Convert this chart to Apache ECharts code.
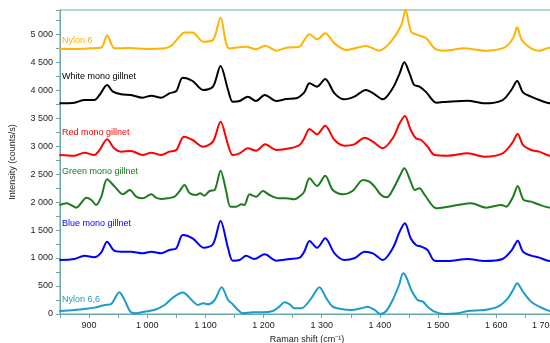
<!DOCTYPE html>
<html>
<head>
<meta charset="utf-8">
<script src="https://cdn.jsdelivr.net/npm/echarts@6/dist/echarts.min.js"></script>
<style>
  html, body { margin: 0; padding: 0; background: #fff; }
  #chart { width: 550px; height: 343px; }
</style>
</head>
<body>
<div id="chart"></div>
<script>
// spectra, [Raman shift, counts/s]
const nylon6 = [
  [849, 4740], [875, 4735], [900, 4745], [921, 4760], [931, 4975], [944, 4745], [970, 4750], [1000, 4735],
  [1030, 4745], [1041, 4790], [1055, 4950], [1064, 5030], [1078, 5030], [1096, 4864], [1113, 4894],
  [1126, 5293], [1141, 4745], [1170, 4775], [1187, 4727], [1203, 4793], [1222, 4703], [1239, 4757],
  [1262, 4775], [1270, 4894], [1279, 4995], [1292, 4906], [1306, 5013], [1322, 4834], [1342, 4715],
  [1376, 4787], [1399, 4703], [1419, 4864], [1437, 5162], [1444, 5430], [1454, 5043], [1468, 4971],
  [1480, 4924], [1494, 4745], [1511, 4703], [1545, 4745], [1580, 4703], [1614, 4757], [1629, 4924],
  [1636, 5120], [1644, 4894], [1660, 4745], [1674, 4703], [1692, 4757], [1720, 4740]
];
const white = [
  [849, 3763], [875, 3775], [892, 3822], [909, 3822], [918, 3912], [931, 4090], [941, 3971], [955, 3924],
  [972, 3912], [992, 3864], [1007, 3900], [1024, 3864], [1038, 3941], [1050, 3983], [1061, 4221],
  [1078, 4162], [1096, 4001], [1113, 4061], [1126, 4430], [1139, 4001], [1147, 3793], [1159, 3805],
  [1173, 3882], [1187, 3805], [1202, 3912], [1222, 3805], [1239, 3840], [1256, 3852], [1270, 3959],
  [1279, 4120], [1292, 4061], [1306, 4197], [1322, 3941], [1339, 3834], [1356, 3882], [1376, 4001],
  [1391, 3924], [1405, 3834], [1422, 4031], [1434, 4299], [1442, 4495], [1451, 4299], [1459, 4090],
  [1468, 4061], [1480, 3959], [1497, 3775], [1517, 3793], [1551, 3811], [1580, 3763], [1611, 3822],
  [1626, 4001], [1636, 4162], [1646, 3959], [1660, 3882], [1674, 3822], [1692, 3763], [1720, 3750]
];
const red = [
  [849, 2840], [875, 2828], [892, 2882], [909, 2840], [918, 2929], [931, 3120], [943, 2959], [955, 2900],
  [972, 2912], [992, 2840], [1007, 2882], [1024, 2840], [1038, 2900], [1050, 2929], [1063, 3168],
  [1078, 3108], [1096, 2989], [1113, 3078], [1126, 3435], [1139, 3019], [1147, 2840], [1159, 2870],
  [1173, 2959], [1187, 2918], [1203, 3031], [1222, 2929], [1245, 2959], [1262, 3019], [1270, 3138],
  [1279, 3304], [1292, 3209], [1306, 3364], [1322, 3108], [1339, 3007], [1356, 3031], [1374, 3150],
  [1388, 3078], [1405, 2959], [1422, 3138], [1434, 3406], [1443, 3537], [1453, 3287], [1462, 3138],
  [1471, 3108], [1482, 2989], [1494, 2840], [1517, 2828], [1551, 2870], [1580, 2810], [1611, 2870],
  [1627, 3048], [1637, 3215], [1646, 3019], [1660, 2929], [1674, 2900], [1692, 2828], [1720, 2820]
];
const green = [
  [849, 1947], [861, 1977], [869, 1947], [878, 1900], [886, 1977], [895, 2078], [904, 2037], [912, 1947],
  [921, 2096], [931, 2406], [944, 2275], [958, 2138], [970, 2215], [981, 2096], [992, 2066], [1007, 2138],
  [1015, 2078], [1024, 2054], [1035, 2066], [1047, 2096], [1055, 2185], [1064, 2304], [1073, 2156],
  [1084, 2126], [1091, 2156], [1098, 2114], [1107, 2197], [1116, 2215], [1126, 2560], [1136, 2185],
  [1143, 1917], [1153, 1917], [1162, 1959], [1167, 1947], [1176, 2138], [1187, 2096], [1199, 2197],
  [1210, 2126], [1226, 2066], [1239, 2066], [1253, 2048], [1265, 2126], [1270, 2185], [1279, 2424],
  [1292, 2287], [1306, 2471], [1319, 2215], [1336, 2138], [1353, 2197], [1371, 2394], [1382, 2364],
  [1391, 2275], [1402, 2126], [1412, 2084], [1425, 2275], [1435, 2483], [1442, 2602], [1453, 2364],
  [1460, 2215], [1468, 2245], [1477, 2126], [1497, 1888], [1517, 1917], [1534, 1947], [1557, 1977],
  [1583, 1900], [1609, 1947], [1617, 1917], [1629, 2096], [1637, 2287], [1647, 2037], [1660, 2007],
  [1672, 1959], [1692, 1900], [1720, 1890]
];
const blue = [
  [849, 965], [875, 983], [892, 1042], [909, 1013], [921, 1102], [931, 1292], [943, 1132], [955, 1114],
  [972, 1114], [992, 1084], [1007, 1114], [1024, 1084], [1038, 1144], [1050, 1173], [1061, 1411],
  [1078, 1352], [1097, 1185], [1113, 1245], [1126, 1661], [1139, 1173], [1147, 953], [1159, 965],
  [1170, 1042], [1184, 983], [1202, 1066], [1222, 953], [1245, 983], [1262, 1007], [1270, 1114],
  [1279, 1304], [1292, 1185], [1306, 1352], [1322, 1084], [1339, 965], [1356, 995], [1374, 1114],
  [1388, 1084], [1405, 965], [1422, 1173], [1434, 1471], [1443, 1620], [1453, 1352], [1462, 1233],
  [1471, 1203], [1482, 1144], [1494, 953], [1517, 947], [1551, 983], [1580, 947], [1611, 983],
  [1627, 1144], [1637, 1310], [1646, 1114], [1660, 1042], [1674, 1007], [1692, 947], [1720, 945]
];
const nylon66 = [
  [849, 54], [875, 72], [892, 90], [909, 114], [927, 161], [938, 179], [952, 388], [961, 250], [971, 42],
  [981, 12], [995, 42], [1012, 72], [1030, 161], [1044, 292], [1061, 382], [1078, 233], [1087, 161],
  [1096, 191], [1104, 173], [1116, 250], [1128, 480], [1139, 250], [1147, 173], [1156, 72], [1164, 12],
  [1182, 30], [1199, 30], [1216, 54], [1227, 131], [1236, 209], [1245, 173], [1253, 102], [1265, 102],
  [1282, 280], [1296, 480], [1308, 280], [1319, 131], [1333, 90], [1351, 72], [1368, 102], [1379, 131],
  [1391, 72], [1401, 0], [1411, 54], [1422, 250], [1433, 518], [1440, 727], [1445, 667], [1454, 429],
  [1465, 250], [1474, 221], [1482, 131], [1494, 42], [1511, 0], [1534, 12], [1551, 54], [1580, 72],
  [1603, 131], [1620, 280], [1629, 429], [1636, 548], [1646, 399], [1660, 221], [1674, 131], [1692, 54],
  [1720, 30]
];

const names = ['Nylon 6', 'White mono gillnet', 'Red mono gillnet', 'Green mono gillnet', 'Blue mono gillnet', 'Nylon 6,6'];
const colors = ['#ffb400', '#000000', '#ff0000', '#1e7a1e', '#0000ff', '#1a9ccc'];
const spectra = [nylon6, white, red, green, blue, nylon66];
const labelTops = [36, 72, 128, 167, 219, 295];

const axisColor = '#6aa6a6';
const fmt = v => String(v).replace(/\B(?=(\d{3})+(?!\d))/g, ' ');

const chart = echarts.init(document.getElementById('chart'));

chart.setOption({
  animation: false,
  textStyle: { fontFamily: 'Liberation Sans, Arial, sans-serif' },
  grid: {
    left: 60, top: 10, width: 506, height: 304,
    outerBoundsMode: 'none',
    containLabel: false,
    show: true, borderColor: axisColor, borderWidth: 1
  },
  xAxis: {
    type: 'value',
    min: 850, max: 1720, interval: 50,
    name: 'Raman shift (cm⁻¹)',
    nameLocation: 'middle',
    nameGap: 18,
    nameTextStyle: { fontSize: 9, color: '#222', padding: [0, 12, 0, 0] },
    axisLine: { lineStyle: { color: axisColor } },
    axisTick: { length: 4, lineStyle: { color: axisColor } },
    axisLabel: {
      fontSize: 9, color: '#222', margin: 7, showMinLabel: true, showMaxLabel: false,
      formatter: v => (v % 100 !== 0 ? '' : v === 1700 ? '{edge|' + fmt(v) + '}' : fmt(v)),
      rich: { edge: { fontSize: 9, color: '#222', padding: [0, 22, 0, 0] } }
    },
    splitLine: { show: false }
  },
  yAxis: {
    type: 'value',
    min: 0, max: 5430, interval: 500,
    name: 'Intensity (counts/s)',
    nameLocation: 'middle',
    nameGap: 43,
    nameTextStyle: { fontSize: 9, color: '#222' },
    axisLine: { show: true, lineStyle: { color: axisColor } },
    axisTick: { length: 4, lineStyle: { color: axisColor } },
    minorTick: { show: true, splitNumber: 2, length: 4, lineStyle: { color: axisColor } },
    axisLabel: { fontSize: 9, color: '#222', margin: 7, formatter: fmt, showMaxLabel: false },
    splitLine: { show: false }
  },
  graphic: names.map((n, i) => ({
    type: 'text',
    left: 62,
    top: labelTops[i],
    style: { text: n, fill: colors[i], font: '9px Liberation Sans, Arial, sans-serif' }
  })),
  series: spectra.map((d, i) => ({
    name: names[i],
    type: 'line',
    data: d,
    showSymbol: false,
    smooth: 0.3,
    clip: true,
    lineStyle: { color: colors[i], width: 2 }
  }))
});
</script>
</body>
</html>
